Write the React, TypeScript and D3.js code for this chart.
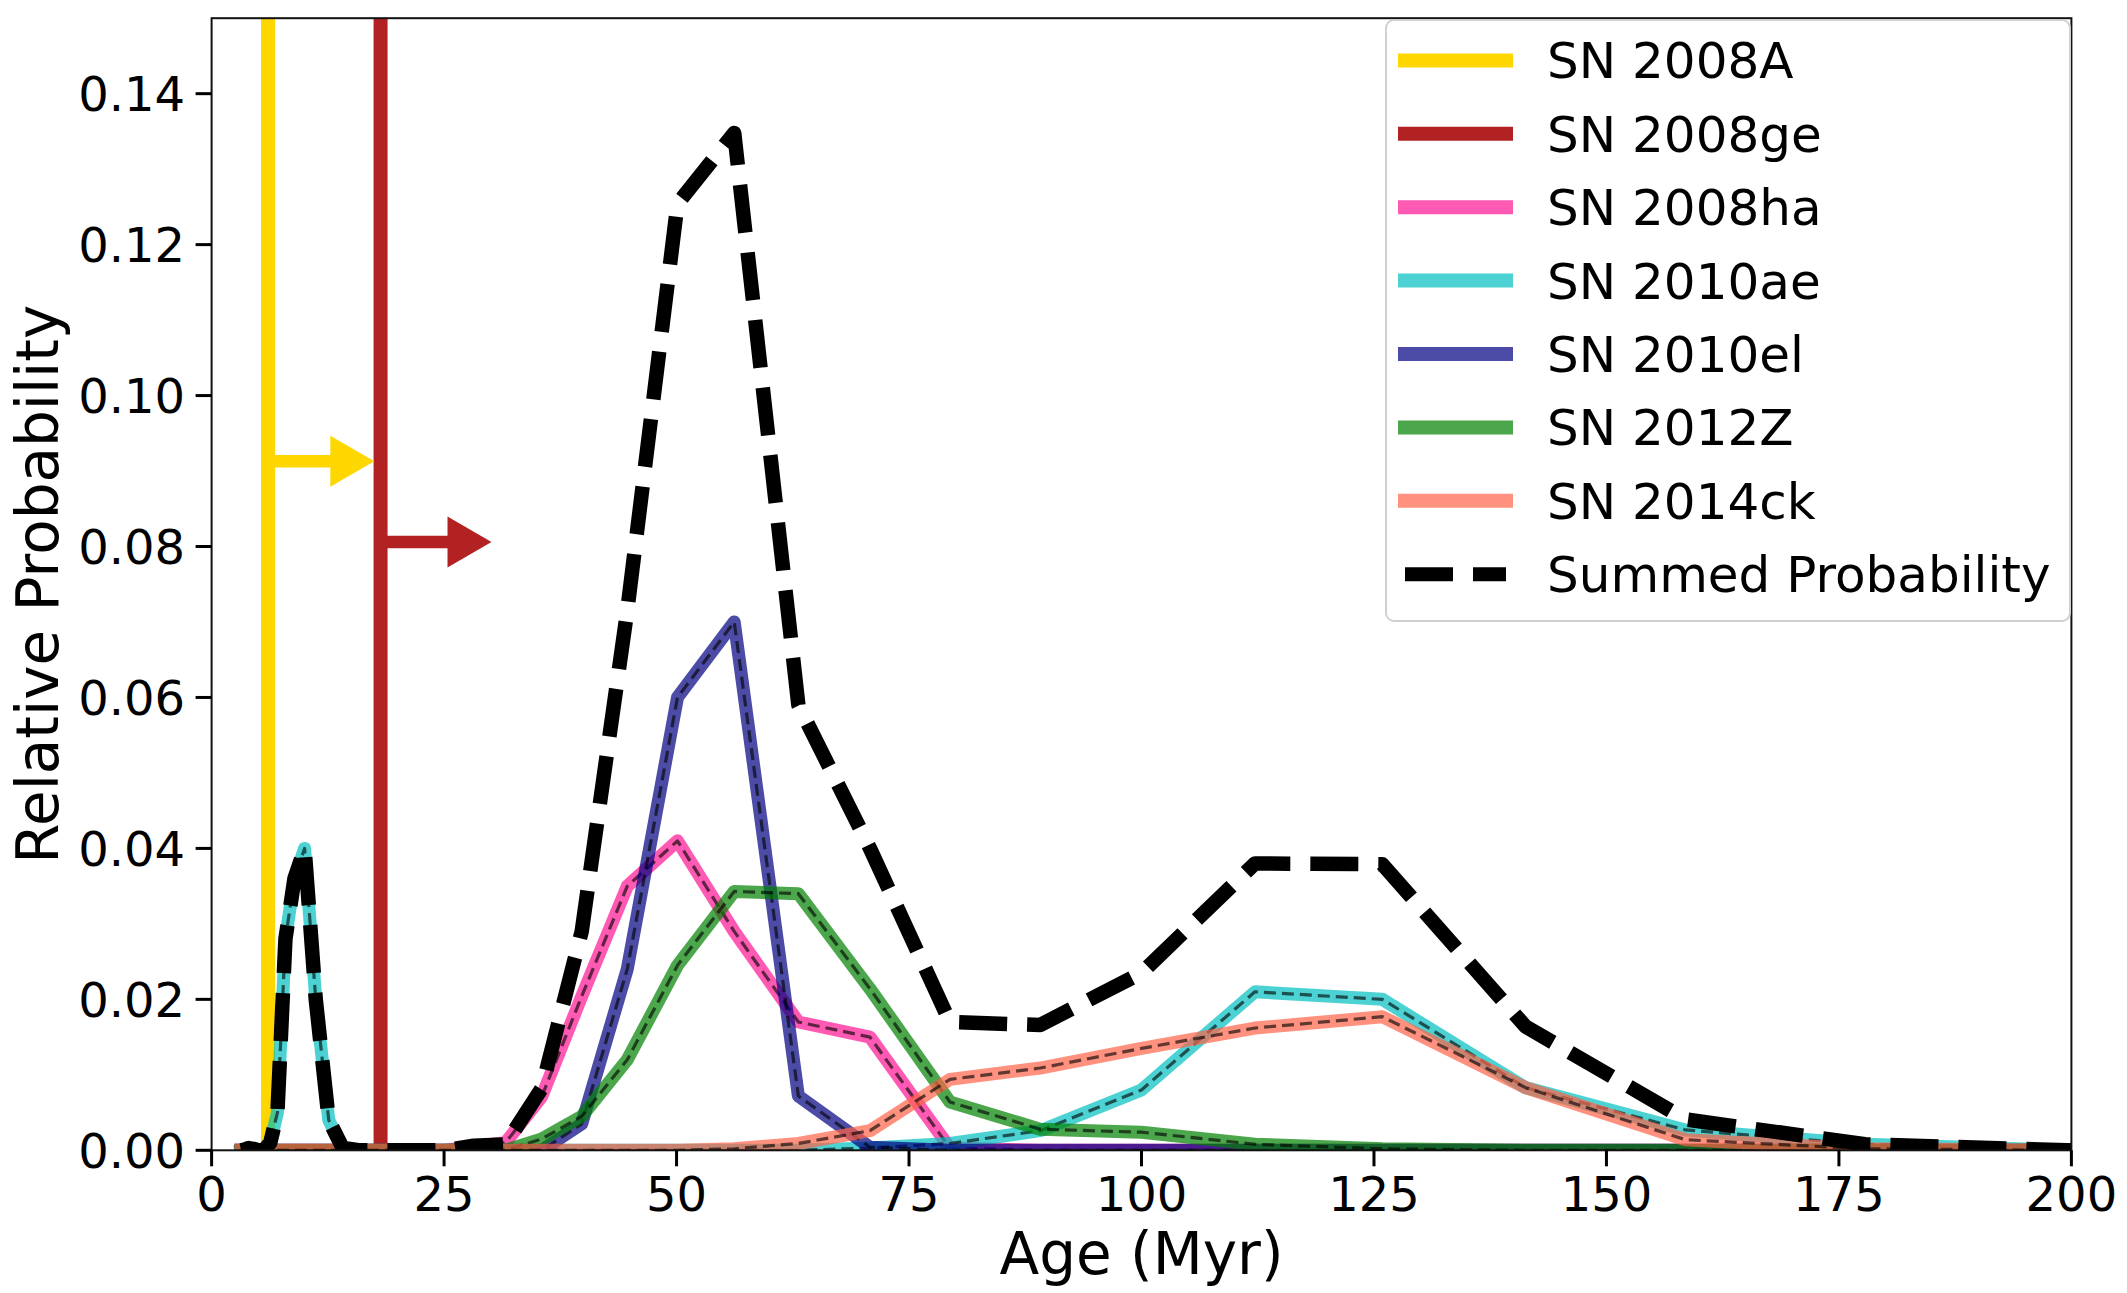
import React, { useEffect } from 'react';
import * as d3 from 'd3';

// Age grid (Myr)
const ages = [3.16, 3.55, 3.98, 4.47, 5.01, 5.62, 6.31, 7.08, 7.94, 8.91, 10.0, 11.2, 12.6, 14.1, 15.8, 17.8, 20.0, 22.4, 25.1, 28.2, 31.6, 35.5, 39.8, 44.7, 50.1, 56.2, 63.1, 70.8, 79.4, 89.1, 100.0, 112.2, 125.9, 141.3, 158.5, 177.8, 199.5, 223.9];

const sn2008ha = [0, 0, 0, 0, 0, 0, 0, 0, 0, 0, 0, 0, 0, 0, 0, 0, 0, 0, 0, 0.0005, 0.001, 0.0071, 0.0204, 0.035, 0.041, 0.029, 0.017, 0.015, 0.0003, 0, 0, 0, 0, 0, 0, 0, 0, 0];
const sn2010ae = [0, 0.0001, 0.0003, 0.0002, 0, 0, 0.001, 0.005, 0.028, 0.036, 0.040, 0.020, 0.004, 0.0003, 0, 0, 0, 0, 0, 0, 0, 0, 0, 0, 0, 0, 0, 0.0003, 0.0009, 0.0026, 0.008, 0.021, 0.020, 0.0083, 0.0027, 0.0008, 0, 0];
const sn2010el = [0, 0, 0, 0, 0, 0, 0, 0, 0, 0, 0, 0, 0, 0, 0, 0, 0, 0, 0, 0, 0, 0, 0.0035, 0.024, 0.060, 0.070, 0.0072, 0.0004, 0, 0, 0, 0, 0, 0, 0, 0, 0, 0];
const sn2012Z = [0, 0, 0, 0, 0, 0, 0, 0, 0, 0, 0, 0, 0, 0, 0, 0, 0, 0, 0, 0, 0, 0.0015, 0.0045, 0.012, 0.0245, 0.0343, 0.034, 0.0214, 0.0064, 0.0028, 0.0024, 0.0008, 0.0002, 0, 0, 0, 0, 0];
const sn2014ck = [0, 0, 0, 0, 0, 0, 0, 0, 0, 0, 0, 0, 0, 0, 0, 0, 0, 0, 0, 0, 0, 0, 0, 0, 0, 0.0002, 0.0009, 0.0026, 0.0094, 0.0109, 0.0135, 0.0162, 0.0177, 0.0083, 0.0014, 0.0002, 0, 0];
const summed = [0, 0.0001, 0.0003, 0.0002, 0, 0, 0.001, 0.005, 0.028, 0.036, 0.040, 0.020, 0.004, 0.0003, 0, 0, 0, 0, 0, 0.0006, 0.0008, 0.0082, 0.029, 0.0715, 0.1254, 0.1348, 0.059, 0.040, 0.0170, 0.0166, 0.0235, 0.0380, 0.0379, 0.0164, 0.0041, 0.0008, 0, 0];

const seriesNames = ['SN 2008ha', 'SN 2010ae', 'SN 2010el', 'SN 2012Z', 'SN 2014ck'];
const seriesValues = [sn2008ha, sn2010ae, sn2010el, sn2012Z, sn2014ck];
const seriesColors = ['#FF1493', '#00BFBF', '#000080', '#008000', '#FF6347'];

// Lower age limits with arrows
const limitNames = ['SN 2008A', 'SN 2008ge'];
const limitAges = [6.07, 18.17];
const limitColors = ['#FFD700', '#B22222'];
const arrowLevels = [0.0913, 0.0806];
const arrowTips = [17.5, 30.1];

const summedName = 'Summed Probability';

const xTicks = [0, 25, 50, 75, 100, 125, 150, 175, 200];
const yTicks = [0, 0.02, 0.04, 0.06, 0.08, 0.1, 0.12, 0.14];

const W = 2127;
const H = 1293;
const PL = 211.6, PR = 2071.4, PT = 18.2, PB = 1150.3;
const FONT = 'DejaVu Sans, Verdana, sans-serif';

export default function App() {
  useEffect(() => {
    document.body.style.margin = '0';
  }, []);

  const x = d3.scaleLinear().domain([0, 200]).range([PL, PR]);
  const y = d3.scaleLinear().domain([0, 0.15]).range([PB, PT]);
  const line = d3
    .line<number>()
    .x((_, i) => x(ages[i]))
    .y((d) => y(d));

  const legendItems = [
    ...limitNames.map((n, i) => ({ name: n, color: limitColors[i], opacity: 1, dashed: false })),
    ...seriesNames.map((n, i) => ({ name: n, color: seriesColors[i], opacity: 0.7, dashed: false })),
    { name: summedName, color: '#000', opacity: 1, dashed: true },
  ];

  const headLen = 44;
  const headHalf = 25.5;

  return (
    <svg width={W} height={H} style={{ display: 'block', background: '#fff' }} fontFamily={FONT}>
      <defs>
        <clipPath id="plotclip">
          <rect x={PL} y={PT} width={PR - PL} height={PB - PT} />
        </clipPath>
      </defs>
      <rect x={0} y={0} width={W} height={H} fill="#fff" />
      <g clipPath="url(#plotclip)">
        {limitAges.map((a, i) => (
          <line key={'v' + i} x1={x(a)} x2={x(a)} y1={PT} y2={PB} stroke={limitColors[i]} strokeWidth={14} />
        ))}
        {limitAges.map((a, i) => {
          const yy = y(arrowLevels[i]);
          const tip = x(arrowTips[i]);
          return (
            <g key={'a' + i}>
              <line x1={x(a)} x2={tip - headLen + 1} y1={yy} y2={yy} stroke={limitColors[i]} strokeWidth={12.3} />
              <polygon
                points={`${tip},${yy} ${tip - headLen},${yy - headHalf} ${tip - headLen},${yy + headHalf}`}
                fill={limitColors[i]}
              />
            </g>
          );
        })}
        {seriesValues.map((vals, i) => (
          <g key={'s' + i}>
            <path
              d={line(vals) || ''}
              fill="none"
              stroke={seriesColors[i]}
              strokeOpacity={0.7}
              strokeWidth={13}
              strokeLinejoin="round"
              strokeLinecap="square"
            />
            <path
              d={line(vals) || ''}
              fill="none"
              stroke="#000"
              strokeOpacity={0.62}
              strokeWidth={3.2}
              strokeDasharray="12 6"
              strokeLinejoin="round"
            />
          </g>
        ))}
        <path
          d={line(summed) || ''}
          fill="none"
          stroke="#000"
          strokeWidth={14.5}
          strokeDasharray="48 20"
          strokeLinejoin="round"
        />
      </g>

      {/* spines */}
      <rect x={PL} y={PT} width={PR - PL} height={PB - PT} fill="none" stroke="#111" strokeWidth={2} />

      {/* x axis ticks */}
      {xTicks.map((t) => (
        <g key={'xt' + t}>
          <line x1={x(t)} x2={x(t)} y1={PB} y2={PB + 16} stroke="#000" strokeWidth={3} />
          <text x={x(t)} y={1211} textAnchor="middle" fontSize={48} fill="#000">
            {d3.format('d')(t)}
          </text>
        </g>
      ))}
      {/* y axis ticks */}
      {yTicks.map((t) => (
        <g key={'yt' + t}>
          <line x1={PL - 16} x2={PL} y1={y(t)} y2={y(t)} stroke="#000" strokeWidth={3} />
          <text x={185} y={y(t) + 17.5} textAnchor="end" fontSize={48} fill="#000">
            {d3.format('.2f')(t)}
          </text>
        </g>
      ))}

      <text x={(PL + PR) / 2} y={1274} textAnchor="middle" fontSize={58} fill="#000">
        Age (Myr)
      </text>
      <text
        transform={`translate(58, ${(PT + PB) / 2}) rotate(-90)`}
        textAnchor="middle"
        fontSize={58}
        fill="#000"
      >
        Relative Probability
      </text>

      {/* legend */}
      <g>
        <rect x={1386} y={20} width={684} height={601} rx={8} ry={8} fill="#fff" fillOpacity={0.8} stroke="#d0d0d0" strokeWidth={2} />
        {legendItems.map((it, i) => {
          const cy = 60.4 + i * 73.4;
          return (
            <g key={'lg' + i}>
              <line
                x1={1405}
                x2={1506}
                y1={cy}
                y2={cy}
                stroke={it.color}
                strokeOpacity={it.opacity}
                strokeWidth={14}
                strokeLinecap={it.dashed ? 'butt' : 'square'}
                strokeDasharray={it.dashed ? '48 20' : undefined}
              />
              <text x={1547} y={cy + 18} fontSize={50} fill="#000">
                {it.name}
              </text>
            </g>
          );
        })}
      </g>
    </svg>
  );
}
